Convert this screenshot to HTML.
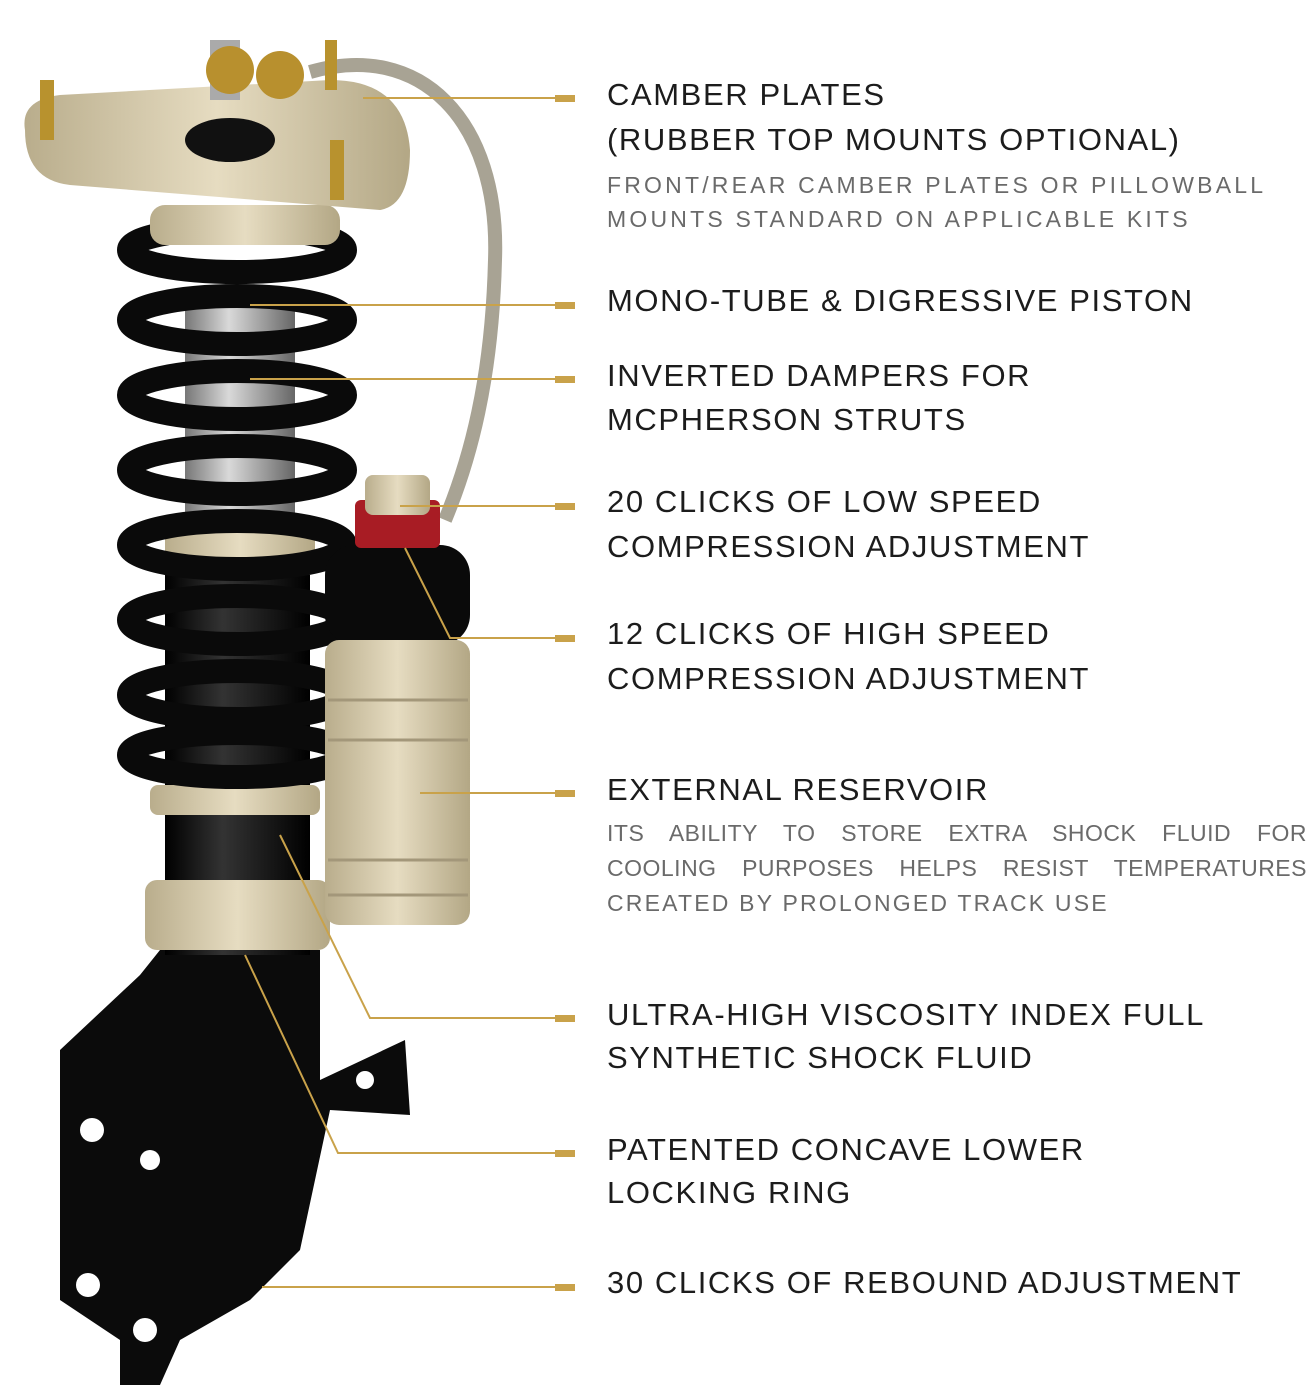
<!DOCTYPE html>
<html><head><meta charset="utf-8"><style>
html,body{margin:0;padding:0;background:#fff;}
#c{position:relative;width:1310px;height:1400px;overflow:hidden;font-family:"Liberation Sans",sans-serif;}
.h{position:absolute;left:607px;font-size:31px;color:#1c1c1c;line-height:34px;white-space:nowrap;letter-spacing:1.6px;}
.s{position:absolute;left:607px;font-size:23px;color:#6a6a6a;line-height:26px;white-space:nowrap;letter-spacing:3.2px;}
.j{width:700px;text-align:justify;text-align-last:justify;white-space:normal;letter-spacing:0.5px;}
svg{position:absolute;left:0;top:0;}
</style></head><body><div id="c">
<svg width="1310" height="1400" viewBox="0 0 1310 1400">
<defs>
<linearGradient id="bg" x1="0" x2="1"><stop offset="0" stop-color="#b9ad8c"/><stop offset=".5" stop-color="#e6dcc1"/><stop offset="1" stop-color="#b3a785"/></linearGradient>
<linearGradient id="gy" x1="0" x2="1"><stop offset="0" stop-color="#777"/><stop offset=".4" stop-color="#d9d9d9"/><stop offset="1" stop-color="#666"/></linearGradient>
<linearGradient id="bk" x1="0" x2="1"><stop offset="0" stop-color="#000"/><stop offset=".4" stop-color="#333"/><stop offset="1" stop-color="#000"/></linearGradient>
</defs>
<path d="M310 72 C420 40 500 120 495 260 C492 380 470 460 445 520" fill="none" stroke="#a8a394" stroke-width="14"/>
<path d="M60 1050 L140 975 L160 950 L320 950 L320 1080 L405 1040 L410 1115 L330 1110 L300 1250 L250 1300 L180 1340 L160 1385 L120 1385 L120 1340 L60 1300 Z" fill="#0b0b0b"/>
<circle cx="92" cy="1130" r="12" fill="#fff"/><circle cx="88" cy="1285" r="12" fill="#fff"/><circle cx="150" cy="1160" r="10" fill="#fff"/><circle cx="145" cy="1330" r="12" fill="#fff"/><circle cx="365" cy="1080" r="9" fill="#fff"/>
<rect x="165" y="780" width="145" height="175" fill="url(#bk)"/>
<rect x="145" y="880" width="185" height="70" rx="12" fill="url(#bg)"/>
<rect x="150" y="785" width="170" height="30" rx="8" fill="url(#bg)"/>
<rect x="185" y="290" width="110" height="240" fill="url(#gy)"/>
<rect x="165" y="515" width="150" height="60" rx="10" fill="url(#bg)"/>
<rect x="165" y="575" width="145" height="210" fill="url(#bk)"/>
<g fill="none" stroke="#0a0a0a" stroke-width="24">
<ellipse cx="237" cy="250" rx="108" ry="22"/>
<ellipse cx="237" cy="320" rx="108" ry="24"/>
<ellipse cx="237" cy="395" rx="108" ry="24"/>
<ellipse cx="237" cy="470" rx="108" ry="24"/>
<ellipse cx="237" cy="545" rx="108" ry="24"/>
<ellipse cx="237" cy="620" rx="108" ry="24"/>
<ellipse cx="237" cy="695" rx="108" ry="24"/>
<ellipse cx="237" cy="755" rx="108" ry="22"/>
</g>
<rect x="150" y="205" width="190" height="40" rx="15" fill="url(#bg)"/>
<path d="M25 130 Q20 100 60 95 L330 80 Q405 80 410 150 Q410 205 380 210 L70 185 Q25 180 25 130 Z" fill="url(#bg)"/>
<ellipse cx="230" cy="140" rx="45" ry="22" fill="#111"/>
<rect x="210" y="40" width="30" height="60" fill="#aaa"/>
<circle cx="230" cy="70" r="24" fill="#b8902e"/><circle cx="280" cy="75" r="24" fill="#b8902e"/>
<rect x="40" y="80" width="14" height="60" fill="#b8922e"/><rect x="325" y="40" width="12" height="50" fill="#b8922e"/><rect x="330" y="140" width="14" height="60" fill="#b8922e"/>
<rect x="325" y="545" width="145" height="100" rx="30" fill="#0a0a0a"/>
<rect x="325" y="640" width="145" height="285" rx="14" fill="url(#bg)"/>
<g stroke="#a3977a" stroke-width="3"><line x1="328" y1="700" x2="468" y2="700"/><line x1="328" y1="740" x2="468" y2="740"/><line x1="328" y1="860" x2="468" y2="860"/><line x1="328" y1="895" x2="468" y2="895"/></g>
<rect x="355" y="500" width="85" height="48" rx="6" fill="#a81c24"/>
<rect x="365" y="475" width="65" height="40" rx="8" fill="url(#bg)"/>
<g stroke="#c9a24a" stroke-width="2" fill="none">
<path d="M363 98 H575"/><path d="M250 305 H575"/><path d="M250 379 H575"/><path d="M400 506 H575"/>
<path d="M405 548 L450 638 H575"/><path d="M420 793 H575"/><path d="M280 835 L370 1018 H575"/>
<path d="M245 955 L338 1153 H575"/><path d="M262 1287 H575"/>
</g>
<g fill="#c9a24a">
<rect x="555" y="95" width="20" height="7"/><rect x="555" y="302" width="20" height="7"/><rect x="555" y="376" width="20" height="7"/><rect x="555" y="503" width="20" height="7"/><rect x="555" y="635" width="20" height="7"/><rect x="555" y="790" width="20" height="7"/><rect x="555" y="1015" width="20" height="7"/><rect x="555" y="1150" width="20" height="7"/><rect x="555" y="1284" width="20" height="7"/>
</g>
</svg>
<div class="h" style="top:78px">CAMBER PLATES</div>
<div class="h" style="top:123px">(RUBBER TOP MOUNTS OPTIONAL)</div>
<div class="s" style="top:172px">FRONT/REAR CAMBER PLATES OR PILLOWBALL</div>
<div class="s" style="top:206px">MOUNTS STANDARD ON APPLICABLE KITS</div>
<div class="h" style="top:284px">MONO-TUBE &amp; DIGRESSIVE PISTON</div>
<div class="h" style="top:359px">INVERTED DAMPERS FOR</div>
<div class="h" style="top:403px">MCPHERSON STRUTS</div>
<div class="h" style="top:485px">20 CLICKS OF LOW SPEED</div>
<div class="h" style="top:530px">COMPRESSION ADJUSTMENT</div>
<div class="h" style="top:617px">12 CLICKS OF HIGH SPEED</div>
<div class="h" style="top:662px">COMPRESSION ADJUSTMENT</div>
<div class="h" style="top:773px">EXTERNAL RESERVOIR</div>
<div class="s j" style="top:820px">ITS ABILITY TO STORE EXTRA SHOCK FLUID FOR</div>
<div class="s j" style="top:855px">COOLING PURPOSES HELPS RESIST TEMPERATURES</div>
<div class="s" style="top:890px;letter-spacing:2.2px">CREATED BY PROLONGED TRACK USE</div>
<div class="h" style="top:998px">ULTRA-HIGH VISCOSITY INDEX FULL</div>
<div class="h" style="top:1041px">SYNTHETIC SHOCK FLUID</div>
<div class="h" style="top:1133px">PATENTED CONCAVE LOWER</div>
<div class="h" style="top:1176px">LOCKING RING</div>
<div class="h" style="top:1266px">30 CLICKS OF REBOUND ADJUSTMENT</div>
</div></body></html>
